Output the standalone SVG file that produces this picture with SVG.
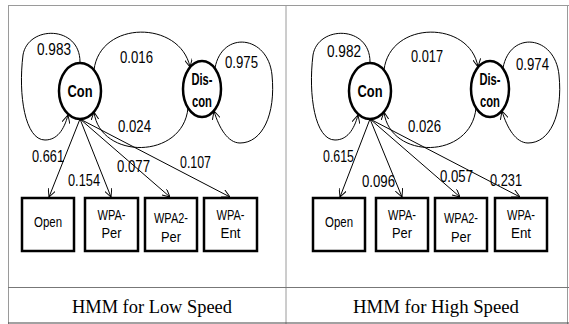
<svg xmlns="http://www.w3.org/2000/svg" width="569" height="324" viewBox="0 0 569 324">
<style>
.frame{stroke:#9a9a9a;stroke-width:1;fill:none}
.state{fill:#fff;stroke:#000;stroke-width:2.5}
.obs{fill:#fff;stroke:#000;stroke-width:2.5}
.edge{fill:none;stroke:#000;stroke-width:1}
.st{font-family:"Liberation Sans",Arial,sans-serif;font-weight:bold;font-size:17px;fill:#000;text-anchor:middle}
.ob{font-family:"Liberation Sans",Arial,sans-serif;font-size:14px;fill:#000;text-anchor:middle}
.pr{font-family:"Liberation Sans",Arial,sans-serif;font-size:17px;fill:#000}
.cap{font-family:"Liberation Serif","Times New Roman",serif;font-size:19px;fill:#000;text-anchor:middle}
</style>
<defs>
<marker id="arr" viewBox="0 0 10 10" refX="10" refY="5" markerWidth="8" markerHeight="8" markerUnits="userSpaceOnUse" orient="auto">
<path d="M0,0 L10,5 L0,10" fill="none" stroke="#000" stroke-width="1.2"/>
</marker>
</defs>
<g id="table">
<line class="frame" x1="8" y1="5.5" x2="569" y2="5.5"/>
<line class="frame" x1="8.5" y1="5" x2="8.5" y2="324"/>
<line class="frame" x1="286" y1="5" x2="286" y2="324"/>
<line class="frame" x1="567.5" y1="5" x2="567.5" y2="324"/>
<line x1="8" y1="287.5" x2="569" y2="287.5" stroke="#777" stroke-width="1"/>
<line x1="8" y1="323" x2="569" y2="323" stroke="#444" stroke-width="1.2"/>
<text class="cap" x="152" y="313" textLength="160" lengthAdjust="spacingAndGlyphs">HMM for Low Speed</text>
<text class="cap" x="436" y="313" textLength="166" lengthAdjust="spacingAndGlyphs">HMM for High Speed</text>
</g>
<g id="connectors">
<path class="edge" marker-end="url(#arr)" d="M80,62 C80,25 28,25 23,55 C18,95 25,140 45,140 C57,140 64,130 68,115"/>
<path class="edge" marker-end="url(#arr)" d="M94,70 C100,20 180,20 190,67"/>
<path class="edge" marker-end="url(#arr)" d="M188,108 C183,160 100,160 94,112"/>
<path class="edge" marker-end="url(#arr)" d="M215,68 C222,30 268,35 272,75 C276,115 262,143 240,143 C228,143 219,128 214,111"/>
<line class="edge" marker-end="url(#arr)" x1="80" y1="119" x2="49" y2="197"/>
<line class="edge" marker-end="url(#arr)" x1="80" y1="119" x2="111" y2="197"/>
<line class="edge" marker-end="url(#arr)" x1="80" y1="119" x2="170" y2="197"/>
<line class="edge" marker-end="url(#arr)" x1="80" y1="119" x2="230" y2="197"/>
<path class="edge" marker-end="url(#arr)" d="M370,62 C370,25 318,25 313,55 C308,95 315,140 335,140 C347,140 354,130 358,115"/>
<path class="edge" marker-end="url(#arr)" d="M384,70 C390,20 470,20 478,67"/>
<path class="edge" marker-end="url(#arr)" d="M476,108 C471,160 390,160 384,112"/>
<path class="edge" marker-end="url(#arr)" d="M503,68 C510,30 555,35 559,75 C563,115 550,143 528,143 C516,143 507,128 502,111"/>
<line class="edge" marker-end="url(#arr)" x1="370" y1="119" x2="340" y2="197"/>
<line class="edge" marker-end="url(#arr)" x1="370" y1="119" x2="402" y2="197"/>
<line class="edge" marker-end="url(#arr)" x1="370" y1="119" x2="460" y2="197"/>
<line class="edge" marker-end="url(#arr)" x1="370" y1="119" x2="520" y2="197"/>
<text class="pr" x="37" y="55" textLength="34" lengthAdjust="spacingAndGlyphs">0.983</text>
<text class="pr" x="120" y="63" textLength="33" lengthAdjust="spacingAndGlyphs">0.016</text>
<text class="pr" x="225" y="68" textLength="33" lengthAdjust="spacingAndGlyphs">0.975</text>
<text class="pr" x="118" y="132" textLength="33" lengthAdjust="spacingAndGlyphs">0.024</text>
<text class="pr" x="32" y="162" textLength="32" lengthAdjust="spacingAndGlyphs">0.661</text>
<text class="pr" x="68" y="186" textLength="32" lengthAdjust="spacingAndGlyphs">0.154</text>
<text class="pr" x="117" y="172" textLength="33" lengthAdjust="spacingAndGlyphs">0.077</text>
<text class="pr" x="180" y="168" textLength="31" lengthAdjust="spacingAndGlyphs">0.107</text>
<text class="pr" x="327" y="57" textLength="34" lengthAdjust="spacingAndGlyphs">0.982</text>
<text class="pr" x="411" y="62" textLength="32" lengthAdjust="spacingAndGlyphs">0.017</text>
<text class="pr" x="516" y="70" textLength="33" lengthAdjust="spacingAndGlyphs">0.974</text>
<text class="pr" x="408" y="132" textLength="33" lengthAdjust="spacingAndGlyphs">0.026</text>
<text class="pr" x="323" y="162" textLength="31" lengthAdjust="spacingAndGlyphs">0.615</text>
<text class="pr" x="362" y="187" textLength="33" lengthAdjust="spacingAndGlyphs">0.096</text>
<text class="pr" x="440" y="182" textLength="33" lengthAdjust="spacingAndGlyphs">0.057</text>
<text class="pr" x="490" y="186" textLength="32" lengthAdjust="spacingAndGlyphs">0.231</text>
</g>
<g id="con-low">
<ellipse class="state" cx="80" cy="91" rx="21" ry="28"/>
<text class="st" x="80" y="97" textLength="25" lengthAdjust="spacingAndGlyphs">Con</text>
</g>
<g id="discon-low">
<ellipse class="state" cx="202" cy="89" rx="19" ry="28"/>
<text class="st" x="202" y="85" font-size="16" textLength="21" lengthAdjust="spacingAndGlyphs">Dis-</text>
<text class="st" x="202" y="107" font-size="16" textLength="20" lengthAdjust="spacingAndGlyphs">con</text>
</g>
<g id="open-low">
<rect class="obs" x="22" y="198" width="52" height="53"/>
<text class="ob" x="48" y="227" textLength="28" lengthAdjust="spacingAndGlyphs">Open</text>
</g>
<g id="wpaper-low">
<rect class="obs" x="85" y="198" width="53" height="53"/>
<text class="ob" x="111.5" y="220" textLength="28" lengthAdjust="spacingAndGlyphs">WPA-</text>
<text class="ob" x="111.5" y="238" textLength="20" lengthAdjust="spacingAndGlyphs">Per</text>
</g>
<g id="wpa2per-low">
<rect class="obs" x="145" y="198" width="52" height="53"/>
<text class="ob" x="171" y="223" textLength="34" lengthAdjust="spacingAndGlyphs">WPA2-</text>
<text class="ob" x="171" y="242" textLength="20" lengthAdjust="spacingAndGlyphs">Per</text>
</g>
<g id="wpaent-low">
<rect class="obs" x="204" y="198" width="53" height="53"/>
<text class="ob" x="230.5" y="220" textLength="28" lengthAdjust="spacingAndGlyphs">WPA-</text>
<text class="ob" x="230.5" y="238" textLength="20" lengthAdjust="spacingAndGlyphs">Ent</text>
</g>
<g id="con-high">
<ellipse class="state" cx="370" cy="91" rx="21" ry="28"/>
<text class="st" x="370" y="97" textLength="25" lengthAdjust="spacingAndGlyphs">Con</text>
</g>
<g id="discon-high">
<ellipse class="state" cx="490" cy="89" rx="19" ry="28"/>
<text class="st" x="490" y="85" font-size="16" textLength="21" lengthAdjust="spacingAndGlyphs">Dis-</text>
<text class="st" x="490" y="107" font-size="16" textLength="20" lengthAdjust="spacingAndGlyphs">con</text>
</g>
<g id="open-high">
<rect class="obs" x="313" y="198" width="52" height="53"/>
<text class="ob" x="339" y="227" textLength="28" lengthAdjust="spacingAndGlyphs">Open</text>
</g>
<g id="wpaper-high">
<rect class="obs" x="376" y="198" width="52" height="53"/>
<text class="ob" x="402" y="220" textLength="28" lengthAdjust="spacingAndGlyphs">WPA-</text>
<text class="ob" x="402" y="238" textLength="20" lengthAdjust="spacingAndGlyphs">Per</text>
</g>
<g id="wpa2per-high">
<rect class="obs" x="435" y="198" width="52" height="53"/>
<text class="ob" x="461" y="223" textLength="34" lengthAdjust="spacingAndGlyphs">WPA2-</text>
<text class="ob" x="461" y="242" textLength="20" lengthAdjust="spacingAndGlyphs">Per</text>
</g>
<g id="wpaent-high">
<rect class="obs" x="495" y="198" width="52" height="53"/>
<text class="ob" x="521" y="220" textLength="28" lengthAdjust="spacingAndGlyphs">WPA-</text>
<text class="ob" x="521" y="238" textLength="20" lengthAdjust="spacingAndGlyphs">Ent</text>
</g>
</svg>
